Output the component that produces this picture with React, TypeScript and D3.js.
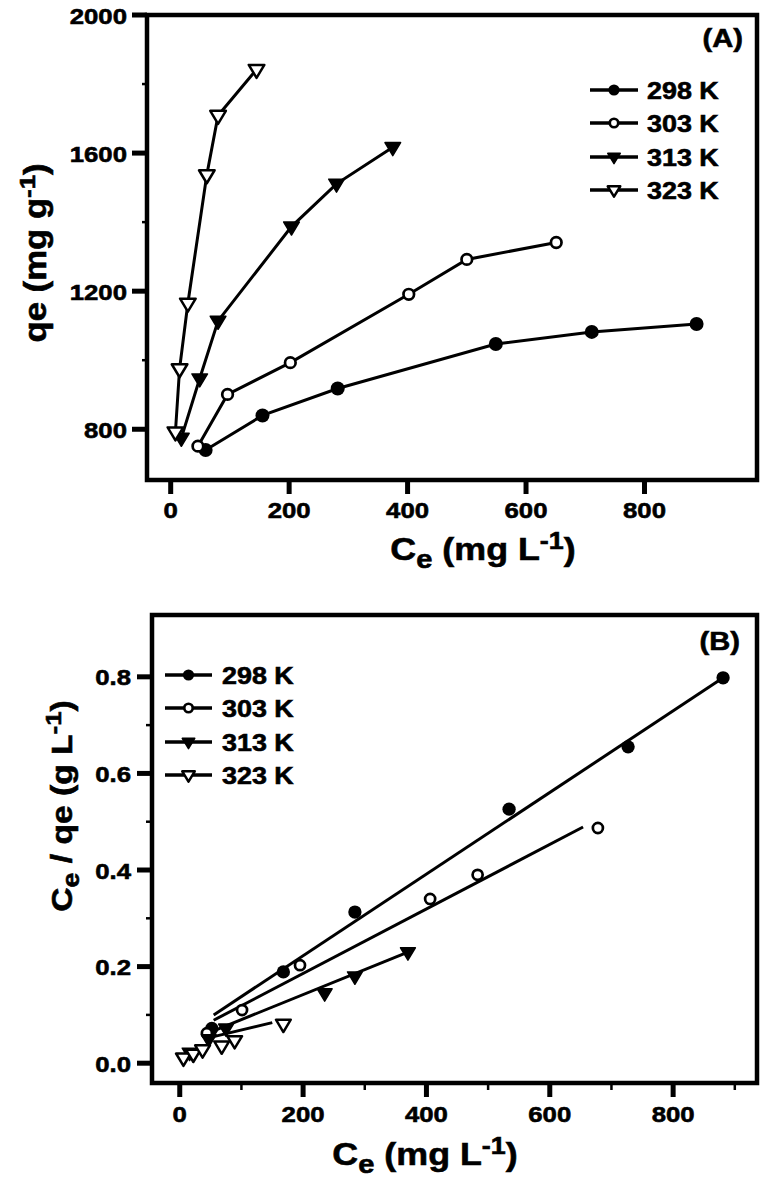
import React from "react";
import * as d3 from "d3";

// ---------- data ----------
const SERIES = ["298 K", "303 K", "313 K", "323 K"];
const MARKERS = ["filledCircle", "openCircle", "filledTri", "openTri"];

// Panel A: qe vs Ce
const A_CE_298 = [59, 155, 282, 549, 711, 888];
const A_QE_298 = [740, 840, 918, 1047, 1082, 1105];
const A_CE_303 = [46, 96, 202, 402, 500, 651];
const A_QE_303 = [751, 901, 993, 1191, 1292, 1341];
const A_CE_313 = [18, 49, 80, 204, 280, 375];
const A_QE_313 = [775, 947, 1114, 1387, 1511, 1617];
const A_CE_323 = [8, 15, 29, 61, 80, 145];
const A_QE_323 = [792, 975, 1165, 1537, 1709, 1842];

// Panel B: Ce/qe vs Ce
const B_CE_298 = [52, 168, 284, 534, 727, 881];
const B_R_298 = [0.072, 0.189, 0.313, 0.526, 0.655, 0.798];
const B_CE_303 = [44, 101, 195, 406, 483, 678];
const B_R_303 = [0.062, 0.11, 0.203, 0.34, 0.39, 0.487];
const B_CE_313 = [16, 47, 75, 235, 284, 370];
const B_R_313 = [0.022, 0.05, 0.072, 0.145, 0.18, 0.23];
const B_CE_323 = [6, 22, 37, 68, 89, 168];
const B_R_323 = [0.011, 0.019, 0.028, 0.036, 0.047, 0.081];

// Linear fit segments in panel B: [x0, y0, x1, y1]
const B_FIT_298 = [55, 0.1, 881, 0.798];
const B_FIT_303 = [55, 0.089, 654, 0.489];
const B_FIT_313 = [55, 0.067, 370, 0.23];
const B_FIT_323 = [55, 0.055, 150, 0.084];

// ticks
const A_X_TICKS = [0, 200, 400, 600, 800];
const A_Y_TICKS = [800, 1200, 1600, 2000];
const A_Y_MINOR = [1000, 1400, 1800];
const B_X_TICKS = [0, 200, 400, 600, 800];
const B_X_MINOR = [100, 300, 500, 700, 900];
const B_Y_TICKS = [0.0, 0.2, 0.4, 0.6, 0.8];
const B_Y_MINOR = [0.1, 0.3, 0.5, 0.7];

// ---------- helpers ----------
const FONT = "'Liberation Sans', Arial, Helvetica, sans-serif";
const SX = 1.12;

function T({ x, y, rot = 0, size, anchor = "start", children }: any) {
  return (
    <text
      transform={`translate(${x},${y}) rotate(${rot}) scale(${SX},1)`}
      fontSize={size}
      fontFamily={FONT}
      fontWeight="bold"
      textAnchor={anchor}
      fill="#000"
      stroke="#000"
      strokeWidth={0.6}
    >
      {children}
    </text>
  );
}

function Marker({ type, x, y, s = 1 }: any) {
  if (type === "filledCircle") return <circle cx={x} cy={y} r={7 * s} fill="#000" />;
  if (type === "openCircle")
    return <circle cx={x} cy={y} r={5.3 * s} fill="#fff" stroke="#000" strokeWidth={2.7} />;
  const w = 7.8 * s;
  const p = `M${x - w},${y - 4.6 * s}L${x + w},${y - 4.6 * s}L${x},${y + 8.4 * s}Z`;
  if (type === "filledTri") return <path d={p} fill="#000" stroke="#000" strokeWidth={1.5} strokeLinejoin="round" />;
  return <path d={p} fill="#fff" stroke="#000" strokeWidth={2.5} strokeLinejoin="round" />;
}

function Legend({ x0, x1, tx, rows }: any) {
  return (
    <g>
      {SERIES.map((s, i) => (
        <g key={s}>
          <line x1={x0} x2={x1} y1={rows[i]} y2={rows[i]} stroke="#000" strokeWidth={3.5} />
          <Marker type={MARKERS[i]} x={(x0 + x1) / 2} y={rows[i]} s={0.8} />
          <T x={tx} y={rows[i] + 9} size={24}>{s}</T>
        </g>
      ))}
    </g>
  );
}

export default function App() {
  // Panel A scales
  const xA = d3.scaleLinear().domain([-40, 990]).range([147, 757]);
  const yA = d3.scaleLinear().domain([653, 2000]).range([480, 15]);
  // Panel B scales
  const xB = d3.scaleLinear().domain([-45, 936]).range([152, 757]);
  const yB = d3.scaleLinear().domain([-0.041, 0.928]).range([1083, 615]);

  const aSeries = [
    [A_CE_298, A_QE_298],
    [A_CE_303, A_QE_303],
    [A_CE_313, A_QE_313],
    [A_CE_323, A_QE_323],
  ];
  const bSeries = [
    [B_CE_298, B_R_298],
    [B_CE_303, B_R_303],
    [B_CE_313, B_R_313],
    [B_CE_323, B_R_323],
  ];
  const bFits = [B_FIT_298, B_FIT_303, B_FIT_313, B_FIT_323];

  const lineA = d3
    .line<number[]>()
    .x((d) => xA(d[0]))
    .y((d) => yA(d[1]));

  return (
    <svg
      width={765}
      height={1181}
      style={{ position: "absolute", left: 0, top: 0, background: "#fff" }}
    >
      <rect x={0} y={0} width={765} height={1181} fill="#fff" />

      {/* ================= Panel A ================= */}
      <g>
        {A_Y_TICKS.map((t) => (
          <g key={"ay" + t}>
            <line x1={132} x2={147} y1={yA(t)} y2={yA(t)} stroke="#000" strokeWidth={5} />
            <T x={127} y={yA(t) + 8.5} size={23} anchor="end">{String(t)}</T>
          </g>
        ))}
        {A_Y_MINOR.map((t) => (
          <line key={"aym" + t} x1={142} x2={147} y1={yA(t)} y2={yA(t)} stroke="#000" strokeWidth={2.5} />
        ))}
        {A_X_TICKS.map((t) => (
          <g key={"ax" + t}>
            <line x1={xA(t)} x2={xA(t)} y1={480} y2={494} stroke="#000" strokeWidth={5} />
            <T x={xA(t)} y={518} size={23} anchor="middle">{String(t)}</T>
          </g>
        ))}
        <rect x={147} y={15} width={610} height={465} fill="none" stroke="#000" strokeWidth={4.5} />

        {aSeries.map(([xs, ys], i) => {
          const pts = xs.map((v, j) => [v, ys[j]]);
          return (
            <g key={"as" + i}>
              <path d={lineA(pts) || ""} fill="none" stroke="#000" strokeWidth={3} />
              {pts.map((p, j) => (
                <Marker key={j} type={MARKERS[i]} x={xA(p[0])} y={yA(p[1])} />
              ))}
            </g>
          );
        })}

        <Legend x0={590} x1={638} tx={647} rows={[90, 123, 157, 190]} />
        <T x={743} y={47} size={26} anchor="end">(A)</T>

        <T x={483} y={560} size={32} anchor="middle">
          C<tspan dy={8} fontSize={26}>e</tspan>
          <tspan dy={-8}> (mg L</tspan>
          <tspan dy={-11} fontSize={24}>-1</tspan>
          <tspan dy={11}>)</tspan>
        </T>
        <T x={46} y={253} rot={-90} size={31} anchor="middle">
          qe (mg g
          <tspan dy={-11} fontSize={23}>-1</tspan>
          <tspan dy={11}>)</tspan>
        </T>
      </g>

      {/* ================= Panel B ================= */}
      <g>
        {B_Y_TICKS.map((t) => (
          <g key={"by" + t}>
            <line x1={137} x2={152} y1={yB(t)} y2={yB(t)} stroke="#000" strokeWidth={5} />
            <T x={131} y={yB(t) + 8.5} size={23} anchor="end">{t.toFixed(1)}</T>
          </g>
        ))}
        {B_Y_MINOR.map((t) => (
          <line key={"bym" + t} x1={146} x2={152} y1={yB(t)} y2={yB(t)} stroke="#000" strokeWidth={2.5} />
        ))}
        {B_X_TICKS.map((t) => (
          <g key={"bx" + t}>
            <line x1={xB(t)} x2={xB(t)} y1={1083} y2={1097} stroke="#000" strokeWidth={5} />
            <T x={xB(t)} y={1122} size={23} anchor="middle">{String(t)}</T>
          </g>
        ))}
        {B_X_MINOR.map((t) => (
          <line key={"bxm" + t} x1={xB(t)} x2={xB(t)} y1={1083} y2={1090} stroke="#000" strokeWidth={2.5} />
        ))}
        <rect x={152} y={615} width={605} height={468} fill="none" stroke="#000" strokeWidth={4.5} />

        {bFits.map((f, i) => (
          <line
            key={"bf" + i}
            x1={xB(f[0])}
            y1={yB(f[1])}
            x2={xB(f[2])}
            y2={yB(f[3])}
            stroke="#000"
            strokeWidth={3}
          />
        ))}
        {bSeries.map(([xs, ys], i) => (
          <g key={"bs" + i}>
            {xs.map((v, j) => (
              <Marker key={j} type={MARKERS[i]} x={xB(v)} y={yB(ys[j])} s={0.95} />
            ))}
          </g>
        ))}

        <Legend x0={165} x1={212} tx={222} rows={[675, 708, 742, 775]} />
        <T x={740} y={650} size={26} anchor="end">(B)</T>

        <T x={425} y={1165} size={32} anchor="middle">
          C<tspan dy={8} fontSize={26}>e</tspan>
          <tspan dy={-8}> (mg L</tspan>
          <tspan dy={-11} fontSize={24}>-1</tspan>
          <tspan dy={11}>)</tspan>
        </T>
        <T x={72} y={806} rot={-90} size={30} anchor="middle">
          C<tspan dy={7} fontSize={24}>e</tspan>
          <tspan dy={-7}> / qe  (g L</tspan>
          <tspan dy={-11} fontSize={23}>-1</tspan>
          <tspan dy={11}>)</tspan>
        </T>
      </g>
    </svg>
  );
}
